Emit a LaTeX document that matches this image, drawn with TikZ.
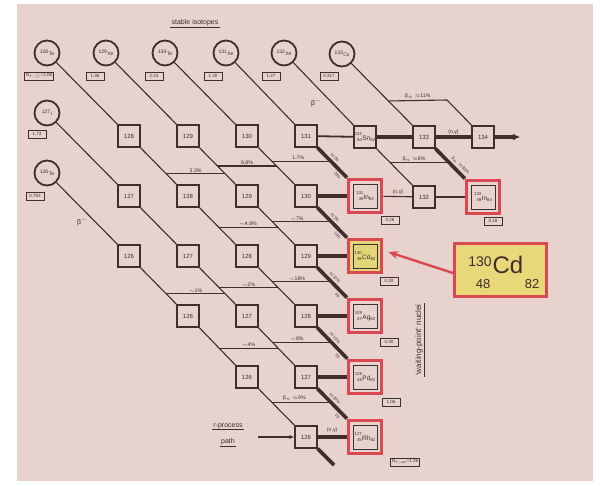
\documentclass[tikz,border=0pt]{standalone}
\usepackage{fontspec}
\setmainfont{Liberation Sans}
\usetikzlibrary{calc,arrows.meta}
\definecolor{bgc}{RGB}{232,210,205}
\definecolor{ink}{RGB}{62,46,46}
\definecolor{redc}{RGB}{218,72,82}
\definecolor{yelc}{RGB}{226,214,120}
\definecolor{calfill}{RGB}{232,216,122}
\newcommand\nucl[4]{\raisebox{-1.6pt}{\fontsize{4.3}{4.3}\selectfont\shortstack[r]{#1\\[0.8pt]#2}}\hspace{0.4pt}{\fontsize{6.5}{6.5}\selectfont #3}\raisebox{-1.6pt}{\fontsize{4.3}{4.3}\selectfont #4}}
\begin{document}
\begin{tikzpicture}[x=1pt,y=-1pt,
  nbox/.style={draw=ink, line width=1.1pt, minimum size=22pt, inner sep=0pt, font=\fontsize{6}{6}\selectfont, text=ink},
  wred/.style={draw=redc, line width=3.6pt, minimum size=33pt, inner sep=0pt, fill=bgc},
  winner/.style={draw=ink, line width=0.9pt, minimum size=24pt, inner sep=0pt, text=ink},
  stab/.style={circle, draw=ink, line width=1.8pt, minimum size=25pt, inner sep=0pt, font=\fontsize{5}{5}\selectfont, text=ink},
  abund/.style={draw=ink, line width=0.8pt, inner sep=1.2pt, minimum height=8pt, minimum width=18pt, font=\fontsize{4.5}{4.5}\selectfont, text=ink},
  thinl/.style={draw=ink, line width=1.1pt},
  thickl/.style={draw=ink, line width=3.6pt},
  pct/.style={font=\fontsize{5.2}{5.2}\selectfont, text=ink, inner sep=1pt, above},
  rotl/.style={font=\fontsize{4.2}{4.2}\selectfont, text=ink, inner sep=2pt, sloped},
  lbl/.style={font=\fontsize{7}{7}\selectfont, text=ink, inner sep=1pt},
]
\useasboundingbox (0,0) rectangle (601,486);
\fill[white] (0,0) rectangle (601,486);
\fill[bgc] (17,4) rectangle (593,481);

% stable isotopes
\node[stab] (Te128) at (47,53) {\textsuperscript{128}Te};
\node[stab] (Xe129) at (106,53) {\textsuperscript{129}Xe};
\node[stab] (Te130) at (165,53) {\textsuperscript{130}Te};
\node[stab] (Xe131) at (226,53) {\textsuperscript{131}Xe};
\node[stab] (Xe132) at (284,53) {\textsuperscript{132}Xe};
\node[stab] (Cs133) at (342,54) {\textsuperscript{133}Cs};
\node[stab] (I127) at (47,113) {\textsuperscript{127}I};
\node[stab] (Te126) at (47,173) {\textsuperscript{126}Te};

\node[abund] (aTe128) at (39,76) {N$_{r,\odot}$=1.06};
\node[abund] (aXe129) at (95,76) {1.36};
\node[abund] (aTe130) at (154,76) {2.24};
\node[abund] (aXe131) at (213,76) {1.30};
\node[abund] (aXe132) at (271,76) {1.27};
\node[abund] (aCs133) at (329,76) {0.317};
\node[abund] (aI127) at (37,134) {1.73};
\node[abund] (aTe126) at (35,196) {0.753};

\node[lbl] (st) at (195,23) {stable isotopes};
\draw[ink, line width=0.7pt] (st.south west) -- (st.south east);
\node[lbl] (beta1) at (316,103) {β$^-$};
\node[lbl] (beta2) at (82,222) {β$^-$};

% row 1 (Sn)
\node[nbox] (Sn128) at (129,136) {128};
\node[nbox] (Sn129) at (188,136) {129};
\node[nbox] (Sn130) at (247,136) {130};
\node[nbox] (Sn131) at (306,136) {131};
\node[nbox] (Sn132) at (365,137) {\nucl{132}{50}{Sn}{82}};
\node[nbox] (Sn133) at (424,137) {133};
\node[nbox] (Sn134) at (483,137) {134};
% row 2 (In)
\node[nbox] (In127) at (129,196) {127};
\node[nbox] (In128) at (188,196) {128};
\node[nbox] (In129) at (247,196) {129};
\node[nbox] (In130) at (306,196) {130};
\node[wred] (In131) at (365,196) {};
\node[winner] (In131i) at (In131) {\nucl{131}{49}{In}{82}};
\node[nbox] (In132) at (424,197) {132};
\node[wred] (In133) at (483,197) {};
\node[winner] (In133i) at (In133) {\nucl{133}{49}{In}{84}};
% row 3 (Cd)
\node[nbox] (Cd126) at (129,256) {126};
\node[nbox] (Cd127) at (188,256) {127};
\node[nbox] (Cd128) at (247,256) {128};
\node[nbox] (Cd129) at (306,256) {129};
\node[wred, fill=yelc] (Cd130) at (365,256) {};
\node[winner] (Cd130i) at (Cd130) {\nucl{130}{48}{Cd}{82}};
% row 4 (Ag)
\node[nbox] (Ag126) at (188,316) {126};
\node[nbox] (Ag127) at (247,316) {127};
\node[nbox] (Ag128) at (306,316) {128};
\node[wred] (Ag129) at (365,316) {};
\node[winner] (Ag129i) at (Ag129) {\nucl{129}{47}{Ag}{82}};
% row 5 (Pd)
\node[nbox] (Pd126) at (247,377) {126};
\node[nbox] (Pd127) at (306,377) {127};
\node[wred] (Pd128) at (365,377) {};
\node[winner] (Pd128i) at (Pd128) {\nucl{128}{46}{Pd}{82}};
% row 6 (Rh)
\node[nbox] (Rh126) at (306,437) {126};
\node[wred] (Rh127) at (365,437) {};
\node[winner] (Rh127i) at (Rh127) {\nucl{127}{45}{Rh}{82}};

% labels under waiting points
\node[abund] (aIn131) at (390,220) {0.26};
\node[abund] (aIn133) at (493,221) {0.18};
\node[abund] (aCd130) at (389,281) {0.20};
\node[abund] (aAg129) at (389,342) {0.30};
\node[abund] (aPd128) at (391,402) {1.06};
\node[abund] (aRh127) at (405,462) {N$_{r,\mathrm{calc}}$=1.26};

% isobaric beta-decay chains
\draw[thinl] (Te128) -- (Sn128) -- (In128) -- (Cd128) -- (Ag128);
\draw[thickl] (Ag128) -- node[rotl, pos=0.45, above]{$\approx$15\%} node[rotl, pos=0.8, below]{35} (Pd128);
\draw[thinl] (Xe129) -- (Sn129) -- (In129) -- (Cd129);
\draw[thickl] (Cd129) -- node[rotl, pos=0.45, above]{$\approx$10\%} node[rotl, pos=0.8, below]{46} (Ag129);
\draw[thinl] (Te130) -- (Sn130) -- (In130);
\draw[thickl] (In130) -- node[rotl, pos=0.45, above]{$\approx$3\%} node[rotl, pos=0.8, below]{195} (Cd130);
\draw[thinl] (Xe131) -- (Sn131);
\draw[thickl] (Sn131) -- node[rotl, pos=0.45, above]{$\approx$2\%} node[rotl, pos=0.8, below]{280} (In131);
\draw[thinl] (Xe132) -- (Sn132) -- (In132);
\draw[thinl] (Cs133) -- (Sn133);
\draw[thickl] (Sn133) -- node[rotl, pos=0.7, above]{β$_n\approx$85\%} (In133);
\coordinate (k134) at ($(Sn134)+(-36,-37)$);
\draw[thinl] (Sn134) -- (k134);
\draw[thinl] (I127) -- (In127) -- (Cd127) -- (Ag127) -- (Pd127);
\draw[thickl] (Pd127) -- node[rotl, pos=0.45, above]{$\approx$20\%} node[rotl, pos=0.8, below]{20} (Rh127);
\draw[thinl] (Te126) -- (Cd126) -- (Ag126) -- (Pd126) -- (Rh126);
\coordinate (stub) at (334,465);
\draw[thickl] (Rh126) -- (stub);

% beta-delayed neutron branches
\coordinate (p1a) at ($(Cs133)!0.566!(Sn133)$);
\draw[thinl] (p1a) -- node[pct]{β$_n\approx$11\%} (k134);
\coordinate (p2a) at ($(Sn128)!0.63!(In128)$);
\coordinate (p2b) at ($(Sn129)!0.63!(In129)$);
\draw[thinl] (p2a) -- node[pct]{3.3\%} (p2b);
\coordinate (p3a) at ($(Sn129)!0.5!(In129)$);
\coordinate (p3b) at ($(Sn130)!0.5!(In130)$);
\draw[thinl] (p3a) -- node[pct]{6.8\%} (p3b);
\coordinate (p4a) at ($(Sn130)!0.42!(In130)$);
\coordinate (p4b) at ($(Sn131)!0.42!(In131)$);
\draw[thinl] (p4a) -- node[pct, pos=0.45]{1.7\%} (p4b);
\coordinate (p5a) at ($(Sn132)!0.43!(In132)$);
\coordinate (p5b) at ($(Sn133)!0.43!(In133)$);
\draw[thinl] (p5a) -- node[pct, pos=0.4]{β$_n\approx$6\%} (p5b);
\coordinate (p6a) at ($(In128)!0.52!(Cd128)$);
\coordinate (p6b) at ($(In129)!0.52!(Cd129)$);
\draw[thinl] (p6a) -- node[pct]{$\sim$4.8\%} (p6b);
\coordinate (p7a) at ($(In129)!0.43!(Cd129)$);
\coordinate (p7b) at ($(In130)!0.43!(Cd130)$);
\draw[thinl] (p7a) -- node[pct, pos=0.42]{$\sim$7\%} (p7b);
\coordinate (p8a) at ($(Cd126)!0.63!(Ag126)$);
\coordinate (p8b) at ($(Cd127)!0.63!(Ag127)$);
\draw[thinl] (p8a) -- node[pct]{$\sim$1\%} (p8b);
\coordinate (p9a) at ($(Cd127)!0.53!(Ag127)$);
\coordinate (p9b) at ($(Cd128)!0.53!(Ag128)$);
\draw[thinl] (p9a) -- node[pct]{$\sim$2\%} (p9b);
\coordinate (p10a) at ($(Cd128)!0.43!(Ag128)$);
\coordinate (p10b) at ($(Cd129)!0.43!(Ag129)$);
\draw[thinl] (p10a) -- node[pct, pos=0.42]{$\sim$16\%} (p10b);
\coordinate (p11a) at ($(Ag126)!0.53!(Pd126)$);
\coordinate (p11b) at ($(Ag127)!0.53!(Pd127)$);
\draw[thinl] (p11a) -- node[pct]{$\sim$4\%} (p11b);
\coordinate (p12a) at ($(Ag127)!0.43!(Pd127)$);
\coordinate (p12b) at ($(Ag128)!0.43!(Pd128)$);
\draw[thinl] (p12a) -- node[pct, pos=0.42]{$\sim$8\%} (p12b);
\coordinate (p13a) at ($(Pd126)!0.42!(Rh126)$);
\coordinate (p13b) at ($(Pd127)!0.42!(Rh127)$);
\draw[thinl] (p13a) -- node[pct, pos=0.38]{β$_n\approx$9\%} (p13b);

% neutron captures / r-process path
\draw[ink, line width=1.8pt] (Sn131) -- (Sn132);
\draw[thickl] (Sn132) -- (Sn133);
\draw[thickl] (Sn133) -- node[pct]{(n,γ)} (Sn134);
\coordinate (outR) at (520,137);
\draw[thickl, -{Latex[length=7pt,width=7pt]}] (Sn134) -- (outR);
\draw[thinl] (In131) -- node[pct]{(n,γ)} (In132);
\draw[thinl] (In132) -- (In133);
\draw[thickl] (In130) -- (In131);
\draw[thickl] (Cd129) -- (Cd130);
\draw[thickl] (Ag128) -- (Ag129);
\draw[thickl] (Pd127) -- (Pd128);
\draw[thickl] (Rh126) -- node[pct, yshift=2pt]{(n,γ)} (Rh127);

\node[lbl] (rp) at (228,426) {r-process};
\draw[ink, line width=0.7pt] (rp.south west) -- (rp.south east);
\node[lbl] (rpath) at (228,442) {path};
\draw[ink, line width=0.7pt] (rpath.south west) -- (rpath.south east);
\coordinate (rin) at (258,437);
\draw[ink, line width=1.3pt, -{Latex[length=5pt,width=4pt]}] (rin) -- (Rh126);

% waiting-point label
\node[lbl, rotate=90, font=\fontsize{8}{8}\selectfont] (wp) at (419,340) {‘waiting-point’ nuclei};
\draw[ink, line width=0.8pt] (wp.south west) -- (wp.south east);

% 130Cd callout
\node[draw=redc, line width=3pt, fill=calfill, minimum width=92pt, minimum height=53pt] (call) at (500.5,270) {};
\node[text=ink, font=\fontsize{14}{14}\selectfont, inner sep=0pt] (cA) at (480,262) {130};
\node[text=ink, font=\fontsize{24}{24}\selectfont, inner sep=0pt] (cS) at (508,265) {Cd};
\node[text=ink, font=\fontsize{13}{13}\selectfont, inner sep=0pt] (cZ) at (483,284) {48};
\node[text=ink, font=\fontsize{13}{13}\selectfont, inner sep=0pt] (cN) at (532,284) {82};
\draw[redc, line width=2.4pt, -{Stealth[length=10pt,width=8pt]}] ([yshift=-3pt]call.west) -- ([shift={(5,-4)}]Cd130.east);
\end{tikzpicture}
\end{document}
